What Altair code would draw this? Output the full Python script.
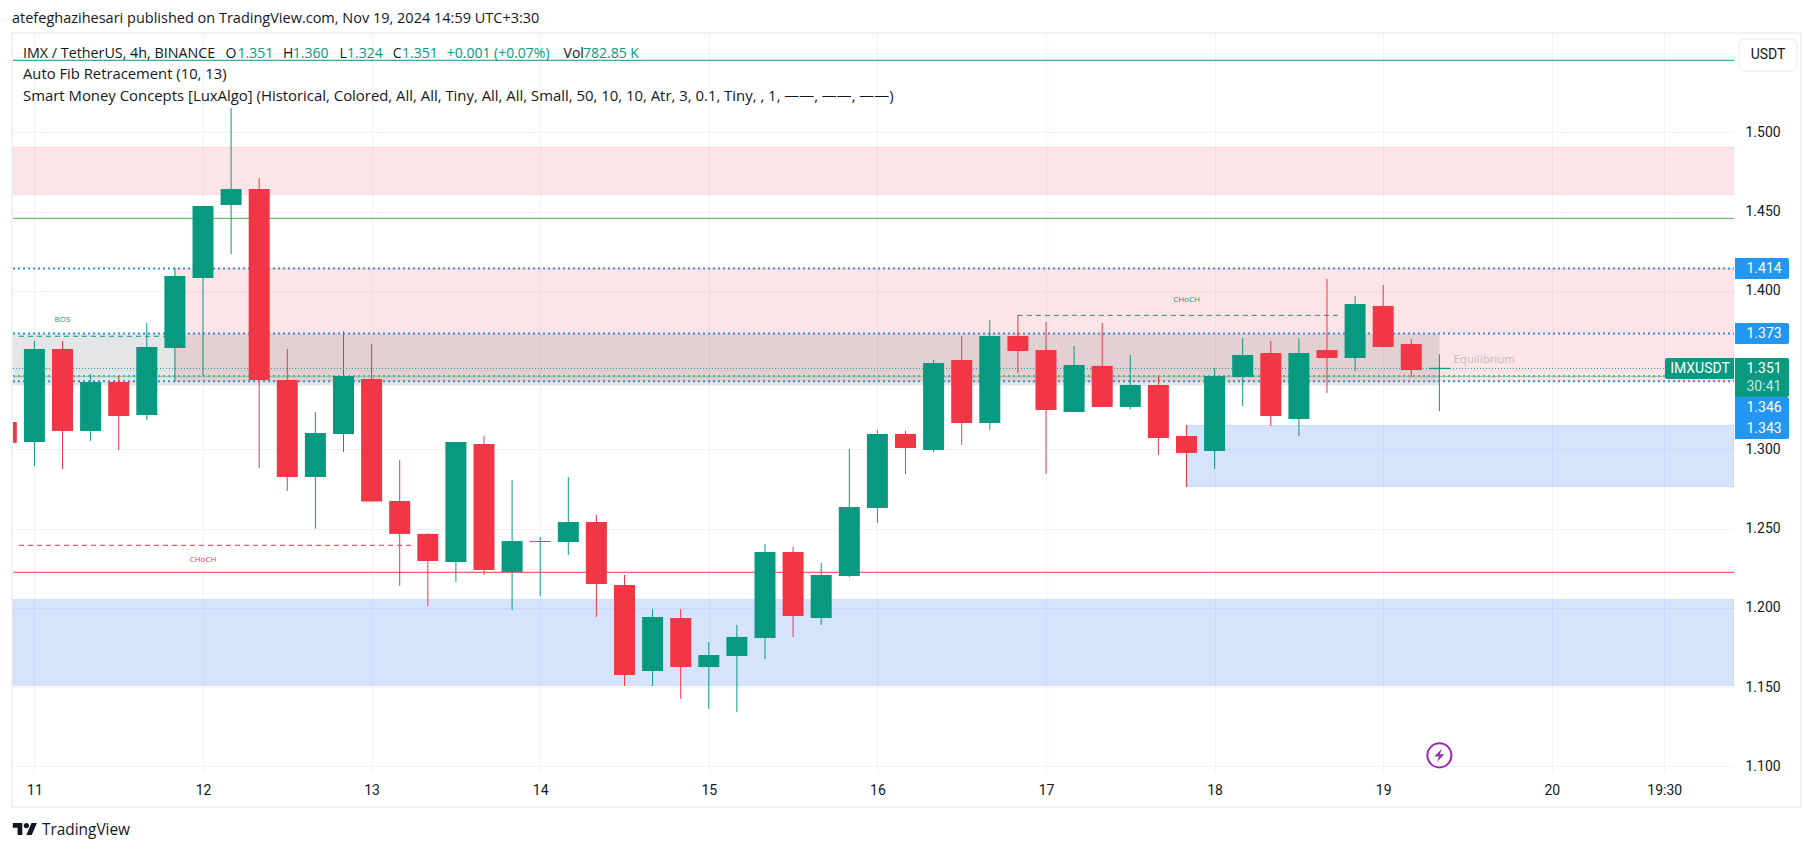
import altair as alt
import pandas as pd

# ---- data -----------------------------------------------------------------
bar_index = list(range(-1, 51))
opens = [1.3172, 1.3046, 1.3633, 1.3116, 1.3425, 1.3217, 1.3639, 1.4081, 1.4541, 1.4642, 1.3437, 1.2825, 1.3097,
         1.3444, 1.2674, 1.2466, 1.2289, 1.3033, 1.2226, 1.2415, 1.2415, 1.2541, 1.2144, 1.1601, 1.1936, 1.1626,
         1.1696, 1.1809, 1.2352, 1.1936, 1.2201, 1.2630, 1.3097, 1.2996, 1.3563, 1.3166, 1.3715, 1.3626, 1.3235,
         1.3526, 1.3267, 1.3406, 1.3084, 1.2989, 1.3456, 1.3607, 1.3191, 1.3626, 1.3576, 1.3904, 1.3664, 1.3506]
closes = [1.3040, 1.3633, 1.3116, 1.3425, 1.3210, 1.3645, 1.4093, 1.4535, 1.4642, 1.3437, 1.2825, 1.3103, 1.3463,
          1.2670, 1.2466, 1.2295, 1.3046, 1.2238, 1.2421, 1.2421, 1.2541, 1.2150, 1.1576, 1.1942, 1.1626, 1.1702,
          1.1816, 1.2352, 1.1948, 1.2207, 1.2636, 1.3096, 1.3008, 1.3544, 1.3166, 1.3715, 1.3620, 1.3248, 1.3532,
          1.3267, 1.3406, 1.3071, 1.2977, 1.3462, 1.3595, 1.3210, 1.3607, 1.3576, 1.3917, 1.3645, 1.3500, 1.3514]
highs = [1.3172, 1.3683, 1.3683, 1.3475, 1.3462, 1.3797, 1.4144, 1.4535, 1.5153, 1.4712, 1.3633, 1.3235, 1.3746,
         1.3665, 1.2932, 1.2470, 1.3046, 1.3084, 1.2806, 1.2447, 1.2825, 1.2586, 1.2207, 1.1992, 1.1992, 1.1784,
         1.1892, 1.2403, 1.2384, 1.2283, 1.3002, 1.3122, 1.3116, 1.3563, 1.3715, 1.3816, 1.3847, 1.3803, 1.3652,
         1.3797, 1.3595, 1.3462, 1.3153, 1.3513, 1.3702, 1.3683, 1.3702, 1.4074, 1.3967, 1.4037, 1.3696, 1.3600]
lows = [1.3040, 1.2895, 1.2876, 1.3052, 1.2996, 1.3185, 1.3425, 1.3463, 1.4232, 1.2882, 1.2737, 1.2499, 1.2983,
        1.2670, 1.2138, 1.2011, 1.2163, 1.2207, 1.1986, 1.2074, 1.2333, 1.1942, 1.1507, 1.1507, 1.1425, 1.1362,
        1.1343, 1.1677, 1.1816, 1.1891, 1.2194, 1.2535, 1.2844, 1.2983, 1.3027, 1.3122, 1.3481, 1.2844, 1.3235,
        1.3267, 1.3254, 1.2964, 1.2762, 1.2876, 1.3273, 1.3147, 1.3084, 1.3355, 1.3494, 1.3645, 1.3456, 1.3240]

tick_index = [0, 6, 12, 18, 24, 30, 36, 42, 48, 54, 58]
tick_labels = ["11", "12", "13", "14", "15", "16", "17", "18", "19", "20", "19:30"]
price_ticks = [1.10, 1.15, 1.20, 1.25, 1.30, 1.35, 1.40, 1.45, 1.50, 1.55]

X0, X1 = -0.7616, 60.484
Y0, Y1 = 1.0964, 1.5620

red_zones = [(X0, X1, 1.4607, 1.4907), (5, X1, 1.3431, 1.4140)]
blue_zones = [(X0, X1, 1.1509, 1.2053), (41, X1, 1.2764, 1.3151)]
gray_zones = [(X0, 50, 1.3402, 1.3730)]
blue_dotted = [1.414, 1.373, 1.346, 1.343]
levels = [(1.5454, "#089981", 1), (1.4457, "#4caf50", 1), (1.3460, "#81c784", 1), (1.2224, "#f23645", 1)]
dashed = [(-0.55, 5, 1.3713, "#089981"), (-0.55, 13.4, 1.2394, "#f23645"), (35, 46.5, 1.3845, "#2e8b76")]

FONT = "Roboto"
TEXT_FONT = "Open Sans"
INK = "#131722"
TEAL = "#089981"
RED = "#f23645"
BLUE = "#2196f3"

df = pd.DataFrame({"i": bar_index, "o": opens, "c": closes, "h": highs, "l": lows})
df["dir"] = ["up" if c >= o else "down" for o, c in zip(opens, closes)]

xs = alt.Scale(domain=[X0, X1], nice=False, zero=False, padding=0)
ys = alt.Scale(domain=[Y0, Y1], nice=False, zero=False, padding=0)
col = alt.Color("dir:N", scale=alt.Scale(domain=["up", "down"], range=[TEAL, RED]), legend=None)


def px(v):
    return alt.value(v - 13)


def py(v):
    return alt.value(v - 34)


def one():
    return alt.Chart(alt.Data(values=[{"a": 1}]))


def txt(s, x, y, color=INK, size=13, align="left", font=FONT):
    return one().mark_text(text=s, align=align, baseline="middle", font=font, fontSize=size, color=color).encode(
        x=px(x), y=py(y))


def box(x, x2, y, y2, color, **kw):
    return one().mark_rect(fill=color, **kw).encode(x=px(x), x2=px(x2), y=py(y), y2=py(y2))


def zones(rows, color, fo, so):
    d = pd.DataFrame(rows, columns=["x", "x2", "y", "y2"])
    return alt.Chart(d).mark_rect(fill=color, fillOpacity=fo, stroke=color, strokeOpacity=so, strokeWidth=1,
                                  clip=True).encode(
        x=alt.X("x:Q", scale=xs), x2="x2:Q", y=alt.Y("y:Q", scale=ys), y2="y2:Q")


def hline(x, x2, y, color, width=1.0, dash=None):
    d = pd.DataFrame({"x": [x], "x2": [x2], "y": [y]})
    kw = {"strokeDash": dash} if dash else {}
    return alt.Chart(d).mark_rule(color=color, strokeWidth=width, clip=True, **kw).encode(
        x=alt.X("x:Q", scale=xs), x2="x2:Q", y=alt.Y("y:Q", scale=ys))


def dtext(s, i, p, color, size=8):
    d = pd.DataFrame({"i": [i], "p": [p]})
    return alt.Chart(d).mark_text(text=s, font=TEXT_FONT, fontSize=size, color=color, baseline="middle").encode(
        x=alt.X("i:Q", scale=xs), y=alt.Y("p:Q", scale=ys))


label_list = "[" + ",".join(f"'{t}'" for t in tick_labels) + "]"
index_list = "[" + ",".join(str(t) for t in tick_index) + "]"

x_axis = alt.Axis(values=tick_index, labelExpr=f"{label_list}[indexof({index_list}, datum.value)]", title=None,
                  grid=True, gridColor="#f0f3fa", gridWidth=1, ticks=False, domain=False, labelPadding=11,
                  labelFont=FONT, labelFontSize=14, labelColor=INK, labelAngle=0, zindex=0, labelOverlap=False)
y_axis = alt.Axis(values=price_ticks, orient="right", title=None, grid=True, gridColor="#f0f3fa", gridWidth=1,
                  ticks=False, domain=False, labelPadding=11, labelFont=FONT, labelFontSize=14, labelColor=INK,
                  labelOverlap=False, zindex=0,
                  labelExpr="indexof(['1.350','1.550'], format(datum.value,'.3f'))>=0 ? '' : format(datum.value,'.3f')")

layers = []

# the axes and grid
layers.append(alt.Chart(df).mark_point(opacity=0).encode(
    x=alt.X("i:Q", scale=xs, axis=x_axis), y=alt.Y("c:Q", scale=ys, axis=y_axis)))

# frame of the pane
layers.append(one().mark_rect(fillOpacity=0, stroke="#f0f0f6", strokeWidth=2).encode(
    x=px(12), x2=px(1801), y=py(33), y2=py(807)))

# blue dotted pivots sit under the zones
for lv in blue_dotted:
    layers.append(hline(X0, X1, lv, BLUE, 2, [2, 3]))

layers.append(zones(red_zones, RED, 0.13, 0.12))
layers.append(zones(blue_zones, "#2d73f5", 0.2, 0.15))
layers.append(zones(gray_zones, "#787b86", 0.2, 0))

for lv, c, w in levels:
    layers.append(hline(X0, X1, lv, c, w))
layers.append(hline(X0, X1, 1.351, TEAL, 1, [1, 2]))
for a, b, lv, c in dashed:
    layers.append(hline(a, b, lv, c, 1, [5, 4]))

# candles
layers.append(alt.Chart(df).mark_rule(strokeWidth=1, clip=True).encode(
    x=alt.X("i:Q", scale=xs), y=alt.Y("l:Q", scale=ys), y2="h:Q", color=col))
layers.append(alt.Chart(df).mark_bar(size=21, clip=True).encode(
    x=alt.X("i:Q", scale=xs), y=alt.Y("o:Q", scale=ys), y2="c:Q", color=col))

# structure labels
layers.append(dtext("BOS", 1, 1.3815, TEAL))
layers.append(dtext("CHoCH", 6, 1.2302, RED))
layers.append(dtext("CHoCH", 41, 1.3942, TEAL))
d_eq = pd.DataFrame({"i": [50.5], "p": [1.3563]})
layers.append(alt.Chart(d_eq).mark_text(text="Equilibrium", font=TEXT_FONT, fontSize=11.5, color="#bbbbc5", align="left",
                                        baseline="middle").encode(
    x=alt.X("i:Q", scale=xs), y=alt.Y("p:Q", scale=ys)))

# price tags on the scale
layers.append(box(1735, 1789, 258, 279, BLUE, cornerRadiusTopRight=2, cornerRadiusBottomRight=2))
layers.append(box(1735, 1789, 323, 344, BLUE, cornerRadiusTopRight=2, cornerRadiusBottomRight=2))
layers.append(box(1735, 1789, 397, 439, BLUE, cornerRadiusTopRight=2, cornerRadiusBottomRight=2))
layers.append(box(1735, 1789, 358, 397, TEAL, cornerRadiusTopRight=2, cornerRadiusBottomRight=2))
layers.append(box(1665, 1734, 358, 379, TEAL, cornerRadiusTopLeft=2, cornerRadiusBottomLeft=2))
for s, y in [("1.414", 268.5), ("1.373", 333.5), ("1.351", 368.5), ("1.346", 407.7), ("1.343", 428.7)]:
    layers.append(txt(s, 1746.5, y, "#ffffff", 14))
layers.append(txt("30:41", 1746.5, 386.7, "#c9e8e1", 14))
layers.append(txt("IMXUSDT", 1700, 368.5, "#ffffff", 14, "center"))

# currency button
layers.append(one().mark_rect(fill="#ffffff", stroke="#e8e9ef", strokeWidth=1, cornerRadius=6).encode(
    x=px(1739), x2=px(1797), y=py(39), y2=py(71)))
layers.append(txt("USDT", 1768, 54.5, INK, 14, "center"))

# header and legend text
layers.append(txt("atefeghazihesari published on TradingView.com, Nov 19, 2024 14:59 UTC+3:30", 12, 19, INK, 14.5, font=TEXT_FONT))
layers.append(txt("IMX / TetherUS, 4h, BINANCE", 23, 54, INK, 14.3, font=TEXT_FONT))
for s, x, c in [("O", 225.5, INK), ("1.351", 237.6, TEAL), ("H", 283, INK), ("1.360", 292.7, TEAL), ("L", 339.4, INK),
                ("1.324", 347, TEAL), ("C", 392.7, INK), ("1.351", 402, TEAL), ("+0.001 (+0.07%)", 446.7, TEAL),
                ("Vol", 563.6, INK), ("782.85 K", 583, TEAL)]:
    layers.append(txt(s, x, 54, c, 14, font=TEXT_FONT))
layers.append(txt("Auto Fib Retracement (10, 13)", 23, 75, INK, 14.8, font=TEXT_FONT))
layers.append(txt("Smart Money Concepts [LuxAlgo] (Historical, Colored, All, All, Tiny, All, All, Small, 50, 10, 10, "
                  "Atr, 3, 0.1, Tiny, , 1, \u2014\u2014, \u2014\u2014, \u2014\u2014)", 23, 96.5, INK, 14.9, font=TEXT_FONT))

# flash icon on the last bar
d_icon = pd.DataFrame({"i": [50], "p": [1.1069]})
layers.append(alt.Chart(d_icon).mark_point(shape="circle", size=580, stroke="#9c27b0", strokeWidth=2, fill="#ffffff",
                                           fillOpacity=1, filled=False, opacity=1).encode(
    x=alt.X("i:Q", scale=xs), y=alt.Y("p:Q", scale=ys)))
layers.append(alt.Chart(d_icon).mark_point(shape="M0.35,-0.95 L-0.7,0.15 L-0.05,0.15 L-0.35,0.95 L0.7,-0.15 L0.05,-0.15 Z",
                                           size=196, fill="#9c27b0", filled=True, opacity=1, strokeWidth=0).encode(
    x=alt.X("i:Q", scale=xs), y=alt.Y("p:Q", scale=ys)))

# TradingView logo and name
logo = ("M-0.222,0.5 H-0.611 V-0.111 H-1 V-0.5 H-0.222 Z "
        "M0.556,0.5 H0.111 L0.528,-0.5 H0.972 Z "
        "M-0.111,-0.278 a0.222,0.222 0 1,0 0.444,0 a0.222,0.222 0 1,0 -0.444,0 Z")
layers.append(one().mark_point(shape=logo, size=595, fill=INK, filled=True, opacity=1, strokeWidth=0).encode(
    x=px(25), y=py(829)))
layers.append(txt("TradingView", 42, 830, INK, 15.4, font=TEXT_FONT))

chart = alt.layer(*layers).properties(
    width=1721, height=738, background="#ffffff",
    padding={"left": 5, "top": 26, "right": 70, "bottom": 70},
    autosize=alt.AutoSizeParams(type="none"),
).configure_view(stroke=None)

chart.save("out.html", embed_options={"renderer": "svg", "actions": False})
